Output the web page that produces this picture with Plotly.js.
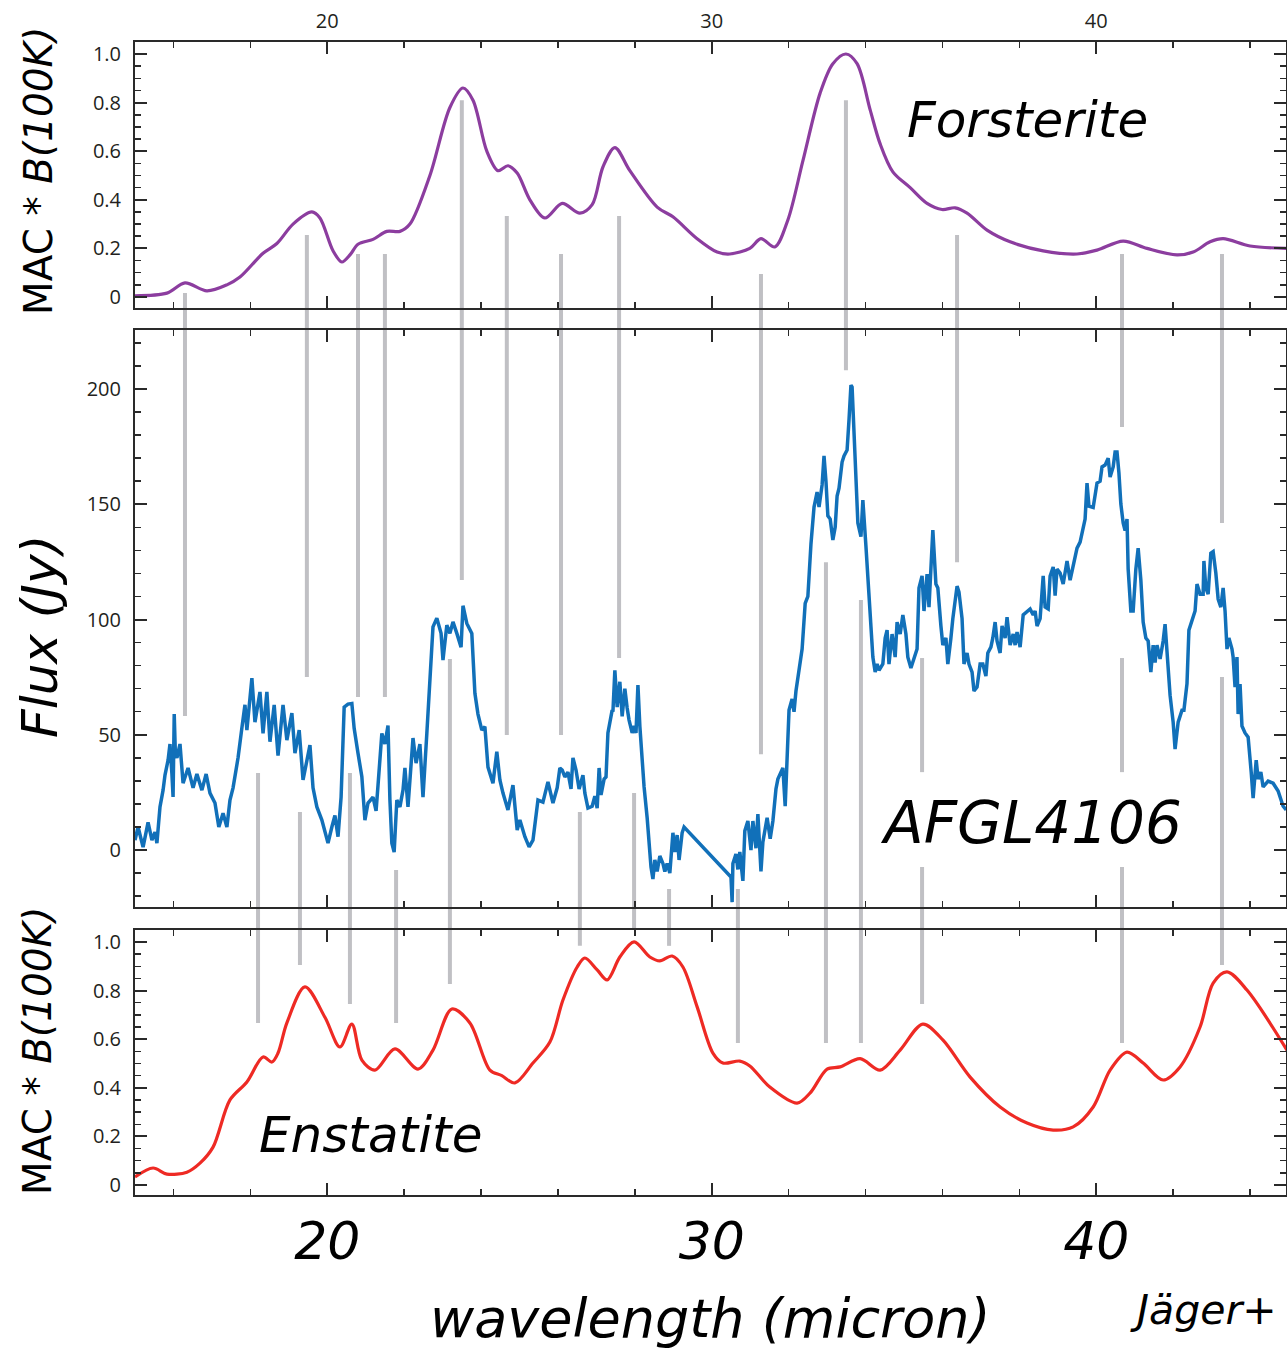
<!DOCTYPE html>
<html>
<head>
<meta charset="utf-8">
<script src="https://cdn.plot.ly/plotly-3.0.1.min.js"></script>
<style>html,body{margin:0;padding:0;background:#fff;}#chart{width:1287px;height:1349px;}</style>
</head>
<body>
<div id="chart"></div>
<script>
// ---------------- data ----------------
const forstWl = [15.00,15.83,16.30,16.87,17.39,17.73,18.33,18.69,19.11,19.60,19.81,20.15,20.38,20.59,20.80,21.19,21.55,21.89,22.15,22.67,23.19,23.53,23.79,24.15,24.44,24.70,24.94,25.27,25.66,26.11,26.57,26.89,27.17,27.48,27.87,28.58,28.99,29.62,30.14,30.47,30.99,31.28,31.64,31.98,32.37,32.82,33.15,33.49,33.78,34.12,34.38,34.71,35.16,35.60,35.99,36.33,36.64,37.16,37.76,38.62,39.50,40.02,40.70,41.32,42.10,42.52,42.96,43.30,44.00,44.96];
const forstVal = [0.005,0.016,0.058,0.025,0.05,0.082,0.18,0.22,0.30,0.35,0.325,0.19,0.144,0.173,0.217,0.237,0.27,0.27,0.30,0.50,0.78,0.86,0.81,0.60,0.52,0.54,0.51,0.40,0.325,0.385,0.345,0.38,0.535,0.615,0.52,0.37,0.33,0.24,0.185,0.177,0.20,0.24,0.206,0.317,0.56,0.84,0.96,1.0,0.96,0.77,0.63,0.515,0.45,0.385,0.36,0.367,0.345,0.275,0.227,0.19,0.177,0.193,0.23,0.20,0.173,0.185,0.227,0.24,0.21,0.20];

const enstWl = [15.00,15.47,15.83,16.35,16.69,17.03,17.47,17.91,18.33,18.56,18.72,18.95,19.42,19.94,20.33,20.64,20.90,21.24,21.76,22.36,22.75,23.24,23.71,24.23,24.54,24.88,25.35,25.79,26.13,26.50,26.70,27.02,27.28,27.61,27.98,28.39,28.65,28.97,29.25,29.62,30.03,30.29,30.73,30.99,31.51,32.22,32.56,33.00,33.34,33.86,34.38,34.90,35.49,36.01,36.72,37.50,38.20,38.88,39.40,39.92,40.36,40.80,41.22,41.74,42.18,42.70,43.04,43.40,43.92,44.96];
const enstVal = [0.033,0.07,0.045,0.053,0.09,0.156,0.35,0.424,0.527,0.506,0.543,0.667,0.815,0.69,0.568,0.662,0.514,0.473,0.56,0.477,0.555,0.724,0.667,0.473,0.45,0.42,0.502,0.588,0.761,0.897,0.934,0.885,0.844,0.938,1.0,0.938,0.922,0.942,0.897,0.733,0.543,0.502,0.51,0.49,0.403,0.337,0.379,0.477,0.486,0.52,0.473,0.555,0.662,0.597,0.444,0.321,0.255,0.226,0.239,0.321,0.473,0.547,0.502,0.432,0.486,0.65,0.831,0.877,0.802,0.555];

const fluxWl = [15.00,15.08,15.21,15.34,15.44,15.52,15.57,15.65,15.73,15.78,15.86,15.91,15.96,15.99,16.02,16.05,16.09,16.17,16.25,16.38,16.51,16.61,16.74,16.85,16.95,17.08,17.18,17.29,17.39,17.47,17.55,17.68,17.78,17.86,17.91,17.99,18.04,18.12,18.25,18.33,18.43,18.51,18.62,18.72,18.85,18.95,19.08,19.16,19.27,19.37,19.47,19.55,19.63,19.73,19.86,19.94,20.02,20.12,20.20,20.28,20.36,20.44,20.54,20.64,20.70,20.80,20.90,20.98,21.06,21.19,21.27,21.32,21.42,21.50,21.58,21.63,21.68,21.74,21.81,21.89,21.97,22.02,22.10,22.23,22.31,22.41,22.49,22.59,22.67,22.75,22.85,22.96,23.01,23.11,23.19,23.27,23.37,23.48,23.53,23.63,23.76,23.84,23.92,24.02,24.10,24.18,24.31,24.41,24.49,24.57,24.70,24.83,24.94,25.01,25.14,25.25,25.35,25.48,25.61,25.74,25.87,25.98,26.05,26.11,26.18,26.26,26.34,26.39,26.47,26.55,26.65,26.70,26.78,26.89,26.96,27.02,27.07,27.12,27.20,27.25,27.30,27.41,27.43,27.48,27.54,27.61,27.67,27.74,27.80,27.85,27.93,27.98,28.03,28.08,28.13,28.24,28.32,28.42,28.47,28.52,28.58,28.65,28.73,28.78,28.84,28.91,28.99,29.04,29.10,29.15,29.23,29.28,30.50,30.53,30.55,30.63,30.68,30.73,30.81,30.86,30.94,31.02,31.07,31.15,31.20,31.28,31.33,31.44,31.52,31.59,31.67,31.72,31.80,31.85,31.91,31.96,32.01,32.09,32.14,32.19,32.27,32.35,32.43,32.50,32.58,32.66,32.74,32.79,32.87,32.92,32.97,33.02,33.08,33.15,33.21,33.26,33.31,33.39,33.44,33.52,33.57,33.62,33.65,33.70,33.75,33.80,33.88,33.93,34.01,34.06,34.14,34.19,34.25,34.30,34.35,34.45,34.51,34.56,34.61,34.69,34.77,34.82,34.90,34.97,35.05,35.10,35.18,35.23,35.34,35.39,35.47,35.52,35.60,35.65,35.75,35.83,35.88,35.96,36.01,36.09,36.14,36.22,36.27,36.38,36.43,36.51,36.56,36.64,36.69,36.77,36.82,36.90,36.98,37.05,37.13,37.18,37.26,37.31,37.37,37.42,37.50,37.55,37.63,37.68,37.76,37.84,37.89,37.94,38.02,38.10,38.20,38.28,38.36,38.41,38.46,38.54,38.62,38.67,38.75,38.80,38.88,38.93,38.98,39.06,39.14,39.19,39.24,39.32,39.40,39.50,39.58,39.66,39.71,39.76,39.81,39.92,39.97,40.02,40.10,40.15,40.23,40.31,40.36,40.44,40.49,40.54,40.59,40.64,40.70,40.75,40.80,40.83,40.90,40.96,41.03,41.09,41.16,41.22,41.29,41.35,41.42,41.48,41.53,41.58,41.66,41.74,41.79,41.84,41.92,42.00,42.05,42.13,42.23,42.28,42.36,42.41,42.52,42.57,42.62,42.70,42.78,42.80,42.85,42.91,42.98,43.04,43.11,43.17,43.24,43.30,43.35,43.40,43.45,43.53,43.56,43.61,43.66,43.69,43.74,43.79,43.87,43.95,44.03,44.08,44.16,44.21,44.28,44.34,44.47,44.60,44.73,44.86,44.94];
const fluxJy = [4.3,10,1.3,12,4.3,7.8,3,18.7,26,32.5,39,46,33,23,59,42,40,46,29,35.6,27,33,26,33,24.7,20.4,10,16,10,21.7,27,40,53,63,52,66,74.6,55.5,68.6,50.6,68.6,47,63,41,63,47.7,59.4,42,52,30.4,40,45.5,27,18.7,13,7.4,3,10,15,5.8,23,62,63.3,63.6,52.8,42,31.8,13,20.4,23,17,28,50.6,46,54,21.7,3,-0.9,21.7,18.7,26,35.6,18.7,48.6,37.7,46,23,50.6,72.4,96.8,100.6,94,82.4,97.6,94,99,94,88,106,98.3,94,68,59,52,53.5,36,29,42.7,30.4,24.7,17.4,28.2,8.7,13,5.8,1.4,4.3,21.7,20.8,29.6,20.4,27,35.6,34.7,31.7,33.8,26.5,40,34.7,26.5,32.5,24.7,18.2,19,23.4,18.2,35.6,23.9,30.8,31.7,50.8,60.7,60,78,62,73,58,70,61.6,56.4,50.8,53.8,50.8,71.6,53.8,27.4,14,-7.4,-12.6,-4.3,-9.3,-2.6,-5.8,-9.3,-5.8,-10,7.5,-0.8,6.5,-4.3,7.5,10,-11.7,-22.6,-5.8,-1.7,-8.4,-0.8,-13.4,8.3,12.6,0,12.6,0.8,15.6,-9.3,3.5,14,4.9,12.6,26.5,30.8,33.8,35.6,19,45.5,60.7,65.5,60,69,77.2,87.2,107,110,132.7,148.8,155.3,148.8,158.4,171,160,145,143.6,134.5,140,153.6,157,168.3,171,173.5,186.7,201.7,200.9,181.8,160,141.9,136,151.8,131.9,117,95.4,83.7,77.2,80.7,78,80.7,92,95.4,80.7,93.7,83.7,98.9,93.7,102,93.7,83.7,79,82,87.2,113.7,118.9,103.7,119.7,105.4,138.8,115.4,113.7,97.2,88.9,92,80.7,92,100.4,114.5,111.9,100.4,80.7,85.5,80.7,77.2,69,70.7,80.7,80.7,75.5,85.5,88,92,98.9,90.7,85.5,97.2,92,101,88.9,93.7,88.9,94.6,88,102,103.7,104.6,102,103.7,97.2,100.4,118.9,105.4,104.6,118.9,122.8,110.4,121.9,120.2,115.4,120.2,125.4,117.1,123.6,131,133.6,140,143.6,159.2,149.2,148.6,153.6,159.2,160,166.2,167,170,161.8,166.2,172.7,172.7,163.6,150.1,141.9,138.6,143.6,121.9,103.7,103.7,121.9,131,117.1,98.9,92,90.7,77.2,88.9,81.3,88.9,82.9,90.7,98,83.7,67.2,55.5,43.8,55.5,60.7,60.7,72.2,95.4,102,103.7,115.4,111,111,125.4,113.7,111,128.8,129.5,120.2,108.9,105.4,113.7,103.7,87.2,92,87.2,83.7,70.7,83.7,59,72,53.8,50.8,49,33.8,22.5,39,30.8,33.8,27.4,29.9,29,25.6,19,17.4];

// feature markers: forsterite (top panel value -> flux value)
const forstFeatWl   = [16.30,19.47,20.80,21.50,23.50,24.67,26.08,27.59,31.28,33.49,36.38,40.67,43.27];
const forstFeatTop  = [0.016,0.255,0.177,0.177,0.81,0.333,0.177,0.333,0.095,0.81,0.255,0.177,0.177];
const forstFeatFlux = [58.1,75.1,66.4,66.4,117.1,49.9,49.9,83.3,41.6,208.2,124.9,183.5,141.9];
// enstatite (flux value -> bottom panel value)
const enstFeatWl     = [18.20,19.29,20.59,21.79,23.19,26.57,27.98,28.89,30.68,32.97,33.88,35.47,40.67,43.27];
const enstFeatFlux   = [33.4,16.5,33.4,-8.7,82.9,16.5,24.7,-16.9,-16.9,124.9,108.5,83.3,83.3,75.1];
const enstFeatBottom = [0.667,0.905,0.745,0.667,0.827,0.984,1.05,0.984,0.584,0.584,0.584,0.745,0.584,0.905];

const xTickVals = [20,30,40];
const yMacTicks = [0,0.2,0.4,0.6,0.8,1.0];
const yMacText  = ['0','0.2','0.4','0.6','0.8','1.0'];
const yFluxTicks = [0,50,100,150,200];

// ---------------- layout ----------------
const XR = [15, 44.935];
const D1 = [0.7693, 1.0],   Y1R = [-0.0453, 1.0494];
const D2 = [0.2498, 0.7502], Y2R = [-24.7, 225.6];
const D3 = [0.0, 0.2298],   Y3R = [-0.041, 1.049];
const GAP = {x0: 34.3, x1: 42.15, y0: -7.4, y1: 33.8}; // space kept clear around AFGL4106 label

function toPaper(v, r, d){ return d[0] + (v - r[0]) / (r[1] - r[0]) * (d[1] - d[0]); }

const FRAME = '#2a2a2a';
const tickFont = {family: 'Open Sans, sans-serif', size: 20, color: '#231f20'};
const bigFont = 'DejaVu Sans, sans-serif';

function xAxis(extra){
  return Object.assign({
    range: XR, showgrid: false, zeroline: false,
    showline: true, linecolor: FRAME, linewidth: 2, mirror: 'allticks',
    ticks: 'inside', ticklen: 12, tickwidth: 2, tickcolor: FRAME,
    tickmode: 'array', tickvals: xTickVals,
    minor: {ticks: 'inside', dtick: 2, tick0: 0, ticklen: 6, tickwidth: 1.5, tickcolor: FRAME},
    tickfont: tickFont
  }, extra);
}
function yAxis(extra){
  return Object.assign({
    showgrid: false, zeroline: false,
    showline: true, linecolor: FRAME, linewidth: 2, mirror: 'allticks',
    ticks: 'inside', ticklen: 12, tickwidth: 2, tickcolor: FRAME,
    tickfont: tickFont, ticklabelstandoff: 8
  }, extra);
}

const traces = [
  {x: forstWl, y: forstVal, xaxis: 'x', yaxis: 'y', mode: 'lines',
   line: {color: '#8c3d9f', width: 3.2, shape: 'spline', smoothing: 0.9}, hoverinfo: 'skip'},
  {x: fluxWl, y: fluxJy, xaxis: 'x2', yaxis: 'y2', mode: 'lines',
   line: {color: '#1170b9', width: 3.5}, hoverinfo: 'skip'},
  {x: enstWl, y: enstVal, xaxis: 'x3', yaxis: 'y3', mode: 'lines',
   line: {color: '#ee2a24', width: 3.2, shape: 'spline', smoothing: 0.9}, hoverinfo: 'skip'}
];

const shapes = [];
const gray = {color: '#c0c0c4', width: 4};
forstFeatWl.forEach((w, i) => {
  shapes.push({type: 'line', xref: 'x', yref: 'paper', x0: w, x1: w,
    y0: toPaper(forstFeatFlux[i], Y2R, D2), y1: toPaper(forstFeatTop[i], Y1R, D1),
    line: gray, layer: 'below'});
});
enstFeatWl.forEach((w, i) => {
  const yb = toPaper(enstFeatBottom[i], Y3R, D3);
  const yt = toPaper(enstFeatFlux[i], Y2R, D2);
  if (w > GAP.x0 && w < GAP.x1 && enstFeatFlux[i] > GAP.y1) {
    shapes.push({type: 'line', xref: 'x', yref: 'paper', x0: w, x1: w,
      y0: toPaper(GAP.y1, Y2R, D2), y1: yt, line: gray, layer: 'below'});
    shapes.push({type: 'line', xref: 'x', yref: 'paper', x0: w, x1: w,
      y0: yb, y1: toPaper(GAP.y0, Y2R, D2), line: gray, layer: 'below'});
  } else {
    shapes.push({type: 'line', xref: 'x', yref: 'paper', x0: w, x1: w,
      y0: yb, y1: yt, line: gray, layer: 'below'});
  }
});

const annotations = [
  {text: 'MAC * <i>B(100K)</i>', xref: 'paper', yref: 'paper', x: -0.0843, y: 0.8881,
   xanchor: 'center', yanchor: 'middle', textangle: -90, showarrow: false,
   font: {family: bigFont, size: 39, color: '#000'}},
  {text: 'Flux (Jy)', xref: 'paper', yref: 'paper', x: -0.0825, y: 0.4840,
   xanchor: 'center', yanchor: 'middle', textangle: -90, showarrow: false,
   font: {family: bigFont, size: 50, color: '#000', style: 'italic'}},
  {text: 'MAC * <i>B(100K)</i>', xref: 'paper', yref: 'paper', x: -0.0843, y: 0.1249,
   xanchor: 'center', yanchor: 'middle', textangle: -90, showarrow: false,
   font: {family: bigFont, size: 39, color: '#000'}},
  {text: 'Forsterite', xref: 'x', yref: 'y', x: 35.03, y: 0.728, xanchor: 'left', yanchor: 'middle',
   showarrow: false, font: {family: bigFont, size: 50, color: '#000', style: 'italic'}},
  {text: 'AFGL4106', xref: 'x2', yref: 'y2', x: 34.32, y: 11.7, xanchor: 'left', yanchor: 'middle',
   showarrow: false, font: {family: bigFont, size: 58, color: '#000', style: 'italic'}},
  {text: 'Enstatite', xref: 'x3', yref: 'y3', x: 18.17, y: 0.206, xanchor: 'left', yanchor: 'middle',
   showarrow: false, font: {family: bigFont, size: 50, color: '#000', style: 'italic'}},
  {text: 'wavelength (micron)', xref: 'paper', yref: 'paper', x: 0.5004, y: -0.1067,
   xanchor: 'center', yanchor: 'middle', showarrow: false,
   font: {family: bigFont, size: 54, color: '#000', style: 'italic'}},
  {text: 'Jäger+', xref: 'paper', yref: 'paper', x: 0.863, y: -0.0997,
   xanchor: 'left', yanchor: 'middle', showarrow: false,
   font: {family: bigFont, size: 41, color: '#000', style: 'italic'}}
];

const layout = {
  width: 1287, height: 1349,
  margin: {l: 135, r: 1, t: 42, b: 154, pad: 0},
  paper_bgcolor: '#fff', plot_bgcolor: 'rgba(0,0,0,0)',
  showlegend: false,
  xaxis: xAxis({anchor: 'y', side: 'top', ticklabelstandoff: 4}),
  xaxis2: xAxis({anchor: 'y2', matches: 'x', showticklabels: false}),
  xaxis3: xAxis({anchor: 'y3', matches: 'x', side: 'bottom', ticklabelstandoff: 0,
    tickfont: {family: bigFont, size: 52, color: '#000', style: 'italic'}}),
  yaxis: yAxis({domain: D1, range: Y1R, anchor: 'x', tickmode: 'array', tickvals: yMacTicks, ticktext: yMacText,
    minor: {ticks: 'inside', dtick: 0.05, tick0: 0, ticklen: 6, tickwidth: 1.5, tickcolor: FRAME}}),
  yaxis2: yAxis({domain: D2, range: Y2R, anchor: 'x2', tickmode: 'array', tickvals: yFluxTicks,
    minor: {ticks: 'inside', dtick: 10, tick0: 0, ticklen: 6, tickwidth: 1.5, tickcolor: FRAME}}),
  yaxis3: yAxis({domain: D3, range: Y3R, anchor: 'x3', tickmode: 'array', tickvals: yMacTicks, ticktext: yMacText,
    minor: {ticks: 'inside', dtick: 0.05, tick0: 0, ticklen: 6, tickwidth: 1.5, tickcolor: FRAME}}),
  shapes: shapes,
  annotations: annotations
};

Plotly.newPlot('chart', traces, layout, {staticPlot: true, displayModeBar: false});
</script>
</body>
</html>
